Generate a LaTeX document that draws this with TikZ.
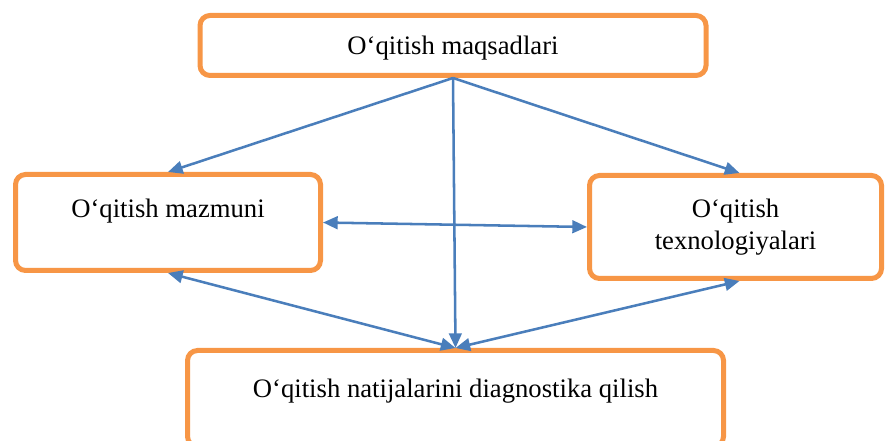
\documentclass[tikz,border=0pt]{standalone}
\usepackage{fontspec}
\setmainfont{Liberation Serif}
\usepackage{tikz}
\usetikzlibrary{arrows.meta,positioning}
\definecolor{boxorange}{HTML}{F79646}
\definecolor{linkblue}{HTML}{4A7EBB}

\begin{document}
\begin{tikzpicture}[
    x=0.75pt, y=-0.75pt,
    >={Triangle[length=11pt,width=9.5pt]},
    font=\fontsize{20}{24}\selectfont,
    block/.style={
		rectangle,
		rounded corners=7.5pt,
		draw=boxorange,
		line width=3.75pt,
		text centered,
		inner sep=0pt,
		fill=white
	},
	link/.style={
		draw=linkblue,
		line width=1.9pt
	}
  ]
  \useasboundingbox (0,0) rectangle (886,441);
    % We start by placing the blocks

  \node [block, minimum width=379.5pt, text height=28.9pt, text depth=16.1pt] (goals) at (453,45.5)
 {O‘qitish maqsadlari};

  \node [block, minimum width=228.75pt, text height=31.9pt, text depth=40.1pt] (content) at (168,222.5)
 {O‘qitish mazmuni};

  \node [block, align=center, minimum width=219pt, minimum height=77.25pt] (tech) at (735.5,227)
 {O‘qitish\\texnologiyalari};

  \node [block, minimum width=402pt, text height=35.6pt, text depth=36.4pt] (diag) at (455.5,398.5)
 {O‘qitish natijalarini diagnostika qilish};

 \draw [link,->] (goals.south) -- (content.north);
 \draw [link,->] (goals.south) -- ([xshift=3pt]tech.north);
 \draw [link,->] (goals.south) -- (diag.north);
 \draw [link,<->] (content.east) -- (tech.west);
 \draw [link,<->] (diag.north) -- (content.south);
 \draw [link,<->] (diag.north) -- ([xshift=3pt]tech.south);

\end{tikzpicture}
\end{document}
